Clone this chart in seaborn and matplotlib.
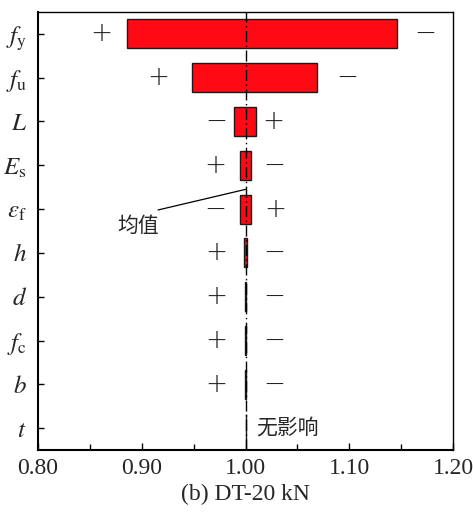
import matplotlib
matplotlib.use("Agg")
import matplotlib.pyplot as plt
import seaborn as sns
import numpy as np
import pandas as pd

params = [r'$f_\mathrm{y}$', r'$f_\mathrm{u}$', r'$L$', r'$E_\mathrm{s}$', r'$\varepsilon_\mathrm{f}$',
          r'$h$', r'$d$', r'$f_\mathrm{c}$', r'$b$', r'$t$']
low_vals = [0.886, 0.948, 0.989, 0.995, 0.995, 0.9989, 0.9994, 0.9996, 0.9996, 1.0]
high_vals = [1.146, 1.069, 1.010, 1.005, 1.005, 1.0011, 1.0006, 1.0004, 1.0004, 1.0]
left_signs = ['+', '+', '−', '+', '−', '+', '+', '+', '+', '']
right_signs = ['−', '−', '+', '−', '+', '−', '−', '−', '−', '']
left_sign_at = [0.861, 0.916, 0.972, 0.971, 0.971, 0.972, 0.972, 0.972, 0.972, np.nan]
right_sign_at = [1.173, 1.098, 1.027, 1.028, 1.029, 1.028, 1.028, 1.028, 1.028, np.nan]
xticks = [0.80, 0.90, 1.00, 1.10, 1.20]
mean_value = 1.00
xlabel = '(b) DT-20 kN'

sns.set_theme(style="ticks")
plt.rcParams['font.family'] = ['Liberation Serif', 'Noto Sans CJK SC', 'DejaVu Sans']
plt.rcParams['mathtext.fontset'] = 'stix'

df = pd.DataFrame({'param': params, 'low': low_vals, 'high': high_vals,
                   'ls': left_signs, 'rs': right_signs,
                   'lx': left_sign_at, 'rx': right_sign_at})
df['span'] = df['high'] - df['low']

fig = plt.figure(figsize=(4.73, 5.12), dpi=100)
ax = fig.add_axes([38/473, 1 - 450/512, 415/473, 438/512])

ax.barh(df['param'], df['span'], left=df['low'], height=0.66,
        color='#FF0A14', edgecolor='#1a1a1a', linewidth=1.0, zorder=2)

ax.axvline(mean_value, color='black', lw=1.0, ls=(0, (8, 2.5, 1, 2.5)), zorder=3)

sign_kw = dict(ha='center', va='center', fontsize=19, family='DejaVu Sans',
               fontweight='light', color='#222222')
for i, r in df.iterrows():
    if r['ls']:
        ax.text(r['lx'], i, r['ls'], **sign_kw)
    if r['rs']:
        ax.text(r['rx'], i, r['rs'], **sign_kw)

ax.annotate('', xy=(mean_value, 3.55), xytext=(0.9157, 4.02),
            arrowprops=dict(arrowstyle='-', color='black', lw=0.9, shrinkA=0, shrinkB=0))
ax.text(0.8964, 4.38, '均值', fontsize=15, family=['Noto Sans CJK SC'], ha='center', va='center')
ax.text(1.0105, 9.0, '无影响', fontsize=15, family=['Noto Sans CJK SC'], ha='left', va='center')

ax.set_xlim(0.80, 1.20)
ax.set_ylim(9.5, -0.5)
ax.set_xticks(xticks)
ax.set_xticklabels([f'{v:.2f}' for v in xticks])
ax.set_xticks([0.85, 0.95, 1.05, 1.15], minor=True)
ax.tick_params(axis='both', which='both', direction='in', color='black')
ax.tick_params(axis='x', which='major', length=5, width=1, labelsize=17, pad=6)
ax.tick_params(axis='x', which='minor', length=4, width=1)
ax.tick_params(axis='y', length=4, width=1, pad=8, labelsize=18)
ax.set_ylabel('')
ax.set_xlabel(xlabel, fontsize=17, labelpad=3)
for s in ax.spines.values():
    s.set_color('black')
    s.set_linewidth(1.0)
ax.spines['bottom'].set_linewidth(1.5)
ax.spines['left'].set_linewidth(1.5)

fig.savefig('out.png', dpi=100)
